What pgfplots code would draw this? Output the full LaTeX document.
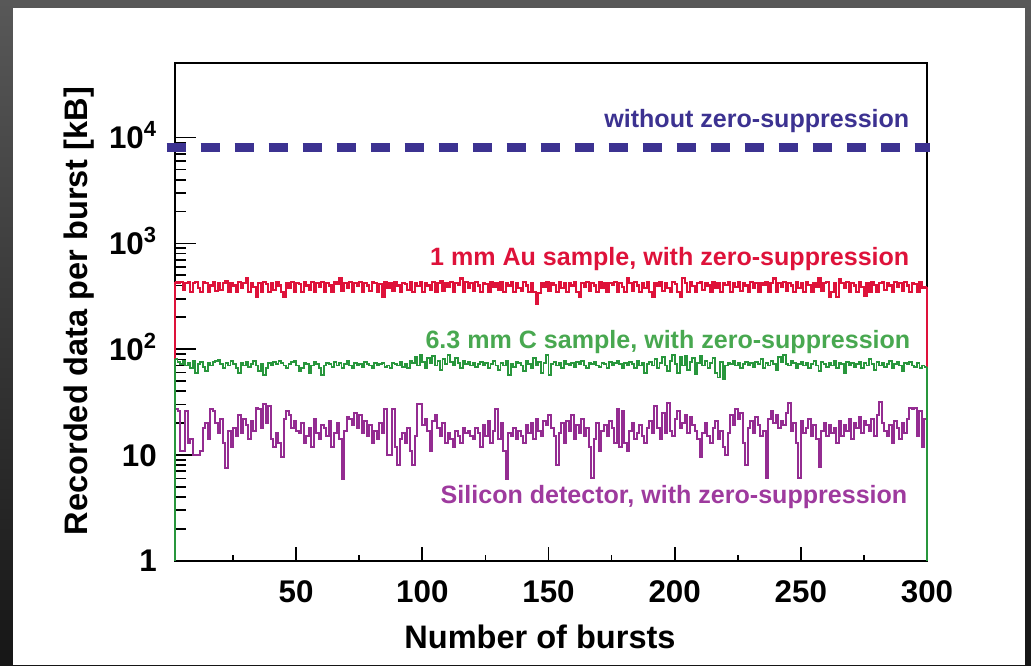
\documentclass[border=0pt]{standalone}
\usepackage{pgfplots}
\pgfplotsset{compat=1.18}
\usepackage{fontspec}
\setmainfont{Liberation Sans}

\definecolor{bgtop}{RGB}{88,88,88}
\definecolor{bgbot}{RGB}{22,22,22}
\definecolor{navyline}{RGB}{60,50,145}
\definecolor{aured}{RGB}{222,18,58}
\definecolor{cgreen}{RGB}{40,150,60}
\definecolor{cgreentext}{RGB}{72,168,80}
\definecolor{sipurple}{RGB}{148,44,145}
\definecolor{sipurpletext}{RGB}{158,58,158}

\newcommand{\lblfont}{\fontsize{18.8pt}{20pt}\selectfont\bfseries}
\newcommand{\titlefont}{\fontsize{24.4pt}{26pt}\selectfont\bfseries}
\newcommand{\tickfont}{\fontsize{23.5pt}{25pt}\selectfont\bfseries}

\begin{document}
\begin{tikzpicture}[x=0.75pt,y=0.75pt]
\path[use as bounding box] (0,0) rectangle (1031,665);
\shade[top color=bgtop,bottom color=bgbot] (0,0) rectangle (1031,665);
\fill[white] (13,0) rectangle (1025,657);

\begin{axis}[
  at={(131.25pt,78.2pt)}, anchor=south west,
  scale only axis, width=564pt, height=373.5pt,
  xmin=2, xmax=300,
  ymode=log, ymin=1, ymax=5.1e4,
  clip=false,
  axis line style={line width=1.5pt},
  tick align=inside,
  xtick pos=bottom, ytick pos=left,
  xtick={50,100,150,200,250,300},
  xticklabels={50,100,150,200,250,300},
  minor xtick={25,75,125,175,225,275},
  ytick={1,10,100,1000,10000},
  yticklabels={1,10,{10\textsuperscript{2}},{10\textsuperscript{3}},{10\textsuperscript{4}}},
  every tick/.style={black, line width=1.3pt},
  xtick style={/pgfplots/major tick length=10.5pt,/pgfplots/minor tick length=4.5pt},
  ytick style={/pgfplots/major tick length=15.75pt,/pgfplots/minor tick length=8.25pt},
  tick label style={font=\tickfont},
  xticklabel style={inner sep=0pt, yshift=-14.5pt},
  yticklabel style={inner sep=0pt, anchor=base east, xshift=-13.5pt, yshift=-8.4pt},
]

% silicon detector
\addplot[sipurple, line width=1.5pt, const plot, forget plot]
  table[row sep=\\, header=false, x expr=\coordindex+2, y index=0] {
27\\26\\11\\11\\26\\13\\14\\10\\10\\10\\
11\\18\\20\\14\\27\\26\\20\\16\\22\\13\\
7.6\\17\\12\\18\\15\\24\\16\\22\\19\\14\\
21\\17\\28\\27\\18\\30\\20\\29\\14\\12\\
16\\13\\9.5\\22\\26\\24\\18\\21\\17\\16\\
20\\13\\15\\18\\12\\22\\16\\14\\19\\18\\
15\\21\\12\\16\\20\\14\\5.9\\17\\23\\22\\
19\\25\\18\\24\\16\\21\\15\\19\\13\\17\\
14\\20\\16\\27\\10\\10\\27\\12\\8\\14\\
16\\13\\18\\11\\8\\15\\30\\30\\19\\22\\
17\\11\\21\\24\\18\\15\\20\\13\\16\\14\\
12\\17\\15\\13\\18\\16\\17\\15\\14\\18\\
16\\12\\19\\15\\21\\13\\17\\27\\14\\20\\
11\\5.9\\16\\15\\18\\14\\17\\15\\13\\19\\
16\\20\\14\\22\\17\\15\\21\\19\\24\\18\\
15\\8\\16\\20\\13\\21\\17\\24\\14\\19\\
16\\22\\15\\18\\12\\6\\14\\20\\11\\17\\
19\\15\\21\\18\\13\\27\\12\\26\\13\\11\\
17\\20\\14\\16\\19\\15\\13\\18\\21\\16\\
29\\18\\14\\25\\16\\31\\17\\15\\22\\26\\
18\\20\\24\\16\\23\\19\\17\\14\\9.5\\16\\
20\\15\\13\\18\\21\\14\\17\\12\\10\\16\\
24\\19\\27\\22\\25\\13\\8\\18\\21\\16\\
23\\19\\15\\17\\6\\22\\26\\20\\24\\18\\
21\\19\\25\\31\\17\\20\\13\\6\\21\\16\\
18\\22\\15\\19\\14\\7.7\\17\\20\\15\\19\\
16\\18\\13\\21\\15\\19\\17\\22\\14\\20\\
18\\23\\16\\21\\19\\17\\22\\15\\24\\32\\
20\\17\\15\\19\\13\\21\\18\\14\\20\\16\\
22\\28\\27\\28\\15\\26\\12\\22\\22\\
};
\addplot[sipurple, line width=1.5pt, forget plot] coordinates {(2,1) (2,27)};
\addplot[sipurple, line width=1.5pt, forget plot] coordinates {(300,22) (300,1)};

% 1 mm Au sample
\addplot[aured, line width=1.6pt, const plot, forget plot]
  table[row sep=\\, header=false, x expr=\coordindex+2, y index=0] {
430\\425\\430\\360\\420\\435\\350\\425\\430\\380\\
350\\430\\420\\345\\400\\430\\355\\425\\360\\420\\
440\\350\\425\\400\\345\\430\\380\\420\\470\\350\\
420\\390\\315\\425\\350\\430\\410\\345\\425\\360\\
430\\400\\350\\315\\420\\380\\435\\350\\425\\410\\
345\\430\\400\\360\\435\\350\\420\\390\\430\\345\\
425\\400\\350\\430\\415\\465\\355\\425\\380\\430\\
350\\420\\395\\435\\345\\425\\400\\355\\430\\420\\
350\\415\\315\\430\\380\\425\\355\\435\\400\\345\\
425\\410\\360\\430\\350\\420\\395\\435\\345\\425\\
400\\360\\430\\350\\420\\440\\355\\425\\390\\430\\
345\\420\\405\\465\\350\\430\\380\\425\\355\\435\\
400\\350\\425\\410\\345\\430\\385\\420\\360\\435\\
350\\420\\400\\430\\345\\425\\380\\355\\430\\400\\
345\\425\\350\\270\\340\\420\\390\\430\\355\\425\\
405\\350\\430\\380\\425\\345\\420\\400\\435\\350\\
315\\425\\390\\430\\355\\420\\400\\345\\435\\380\\
425\\350\\420\\405\\430\\345\\425\\390\\350\\465\\
420\\355\\430\\400\\345\\425\\380\\435\\350\\315\\
420\\400\\430\\355\\425\\380\\345\\430\\410\\350\\
315\\470\\425\\350\\430\\395\\345\\420\\435\\360\\
425\\400\\350\\430\\380\\425\\345\\420\\405\\435\\
350\\425\\390\\430\\355\\420\\400\\345\\435\\380\\
425\\350\\420\\405\\430\\345\\425\\465\\350\\420\\
390\\430\\355\\425\\400\\345\\435\\380\\420\\350\\
430\\405\\345\\425\\390\\465\\355\\420\\430\\315\\
350\\425\\310\\460\\420\\380\\430\\345\\425\\400\\
350\\435\\390\\320\\425\\350\\430\\405\\345\\420\\
435\\360\\425\\400\\350\\430\\385\\420\\355\\430\\
400\\345\\425\\410\\350\\430\\380\\390\\390\\
};
\addplot[aured, line width=1.6pt, forget plot] coordinates {(2,1) (2,430)};
\addplot[aured, line width=1.6pt, forget plot] coordinates {(300,390) (300,1)};

% 6.3 mm C sample
\addplot[cgreen, line width=1.4pt, const plot, forget plot]
  table[row sep=\\, header=false, x expr=\coordindex+2, y index=0] {
80\\76\\72\\78\\70\\74\\66\\78\\60\\72\\
75\\68\\62\\74\\70\\76\\78\\79\\72\\66\\
74\\70\\78\\72\\66\\60\\74\\70\\76\\68\\
73\\77\\70\\62\\72\\57\\66\\74\\70\\76\\
72\\78\\74\\70\\66\\72\\76\\78\\70\\62\\
66\\74\\72\\60\\70\\76\\72\\66\\57\\70\\
74\\72\\68\\76\\70\\74\\66\\72\\78\\70\\
66\\74\\70\\72\\68\\76\\72\\70\\66\\74\\
70\\72\\74\\68\\70\\66\\74\\72\\70\\76\\
68\\72\\66\\78\\74\\84\\70\\88\\76\\66\\
82\\74\\86\\70\\78\\64\\80\\72\\88\\76\\
70\\82\\74\\66\\78\\72\\76\\70\\74\\68\\
72\\76\\70\\74\\66\\72\\78\\70\\64\\74\\
70\\78\\57\\72\\68\\76\\74\\70\\62\\78\\
72\\66\\82\\70\\76\\60\\74\\88\\57\\72\\
76\\70\\74\\66\\78\\72\\70\\74\\68\\76\\
72\\78\\70\\66\\74\\72\\76\\70\\68\\74\\
72\\66\\76\\70\\74\\78\\72\\66\\74\\70\\
76\\72\\66\\78\\70\\74\\60\\72\\76\\70\\
80\\66\\74\\84\\70\\62\\78\\88\\72\\60\\
84\\70\\86\\64\\76\\82\\58\\74\\86\\70\\
78\\66\\74\\82\\60\\54\\76\\52\\70\\74\\
72\\78\\70\\74\\66\\72\\76\\70\\74\\68\\
76\\72\\80\\66\\74\\70\\78\\72\\64\\84\\
76\\88\\72\\70\\78\\74\\66\\72\\76\\70\\
74\\66\\72\\78\\70\\62\\76\\72\\68\\74\\
70\\78\\66\\74\\72\\60\\76\\70\\74\\68\\
72\\76\\66\\74\\70\\80\\72\\64\\76\\70\\
74\\68\\72\\78\\66\\72\\76\\70\\62\\74\\
72\\76\\70\\68\\74\\66\\70\\68\\68\\
};
\addplot[cgreen, line width=1.4pt, forget plot] coordinates {(2,1) (2,80)};
\addplot[cgreen, line width=1.4pt, forget plot] coordinates {(300,68) (300,1)};

% data volume without zero suppression
\addplot[navyline, line width=6.75pt, dash pattern=on 14.6pt off 10.9pt, forget plot]
  coordinates {(-1.3,8000) (301.2,8000)};
\end{axis}

\node[anchor=base east, text=navyline, font=\lblfont] at (914,537) {without zero-suppression};
\node[anchor=base east, text=aured, font=\lblfont] at (914,399) {1 mm Au sample, with zero-suppression};
\node[anchor=base east, text=cgreentext, font=\lblfont] at (915,317) {6.3 mm C sample, with zero-suppression};
\node[anchor=base east, text=sipurpletext, font=\lblfont] at (912,162) {Silicon detector, with zero-suppression};

\node[anchor=base, font=\titlefont] at (540,17) {Number of bursts};
\node[rotate=90, anchor=base, font=\titlefont] at (87,354) {Recorded data per burst [kB]};
\end{tikzpicture}
\end{document}
